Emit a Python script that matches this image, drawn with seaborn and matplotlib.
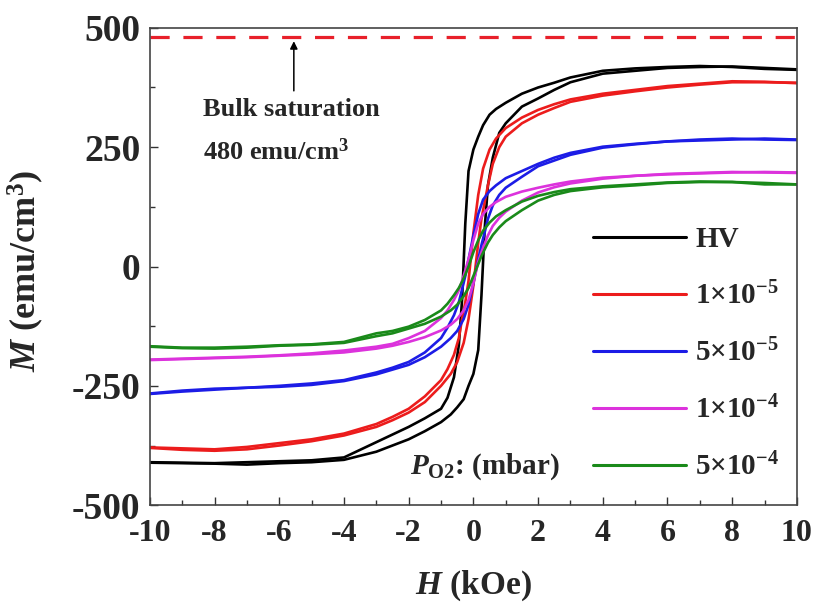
import numpy as np
import pandas as pd
import matplotlib
matplotlib.use("Agg")
import matplotlib.pyplot as plt
from matplotlib.lines import Line2D
from matplotlib.ticker import MultipleLocator
import seaborn as sns

# ---- measured M-H loops (H in kOe, M in emu/cm^3) ----
# field sweep from +10 down to -10 kOe (descending branch)
H_DOWN = [10, 9, 8, 7, 6, 5, 4, 3, 2.5, 2, 1.5, 1, 0.7, 0.5, 0.3, 0.15, 0,
          -0.15, -0.25, -0.35, -0.45, -0.6, -0.8, -1, -1.5, -2, -2.5, -3, -4,
          -5, -6, -7, -8, -9, -10]
# field sweep from -10 up to +10 kOe (ascending branch)
H_UP = [-10, -9, -8, -7, -6, -5, -4, -3, -2.5, -2, -1.5, -1, -0.7, -0.5, -0.3,
        -0.15, 0, 0.15, 0.25, 0.35, 0.45, 0.6, 0.8, 1, 1.5, 2, 2.5, 3, 4, 5,
        6, 7, 8, 9, 10]

M_HV_DOWN = [412, 414, 418, 420, 418, 415, 410, 396, 385, 375, 362, 343, 330,
             318, 296, 272, 245, 200, 90, -70, -165, -232, -275, -298, -318,
             -336, -352, -368, -400, -406, -408, -410, -412, -411, -410]
M_HV_UP = [-411, -412, -413, -415, -412, -410, -405, -388, -375, -362, -345,
           -326, -310, -295, -278, -250, -225, -175, -60, 80, 170, 228, 280,
           300, 335, 352, 370, 386, 404, 410, 416, 418, 419, 416, 413]

M_1E5_DOWN = [384, 387, 388, 383, 378, 370, 362, 350, 340, 328, 312, 290, 268,
              245, 205, 150, 70, -30, -75, -110, -150, -185, -215, -238, -272,
              -298, -315, -330, -350, -362, -370, -378, -383, -381, -379]
M_1E5_UP = [-380, -384, -386, -383, -375, -366, -354, -336, -322, -306, -284,
            -250, -225, -200, -160, -110, -40, 50, 100, 135, 170, 215, 250,
            272, 300, 318, 332, 345, 358, 367, 375, 381, 386, 386, 385]

M_5E5_DOWN = [266, 268, 266, 264, 262, 257, 251, 238, 228, 215, 200, 185, 170,
              158, 140, 110, 65, 15, -20, -48, -75, -102, -128, -150, -180,
              -200, -212, -222, -238, -245, -250, -254, -256, -260, -266]
M_5E5_UP = [-267, -262, -258, -254, -252, -248, -240, -226, -216, -206, -190,
            -168, -150, -135, -110, -80, -35, 15, 45, 72, 100, 128, 150, 165,
            188, 210, 222, 234, 249, 256, 262, 266, 268, 266, 265]

M_1E4_DOWN = [197, 198, 197, 195, 193, 190, 186, 178, 172, 165, 157, 146, 135,
              125, 110, 90, 55, 15, -8, -30, -50, -70, -92, -108, -135, -150,
              -162, -168, -176, -182, -186, -189, -191, -193, -195]
M_1E4_UP = [-196, -194, -192, -190, -187, -184, -180, -172, -166, -158, -148,
            -134, -122, -110, -92, -70, -35, 10, 30, 48, 65, 85, 102, 115, 138,
            155, 166, 174, 184, 190, 194, 196, 198, 197, 196]

M_5E4_DOWN = [172, 172, 177, 178, 176, 172, 168, 162, 156, 148, 136, 118, 105,
              92, 75, 55, 30, 0, -17, -32, -45, -60, -78, -92, -112, -126,
              -135, -140, -158, -163, -165, -168, -170, -170, -167]
M_5E4_UP = [-168, -171, -172, -170, -166, -164, -160, -146, -140, -130, -120,
            -105, -92, -80, -62, -45, -20, 5, 22, 36, 50, 66, 82, 95, 118, 138,
            150, 158, 166, 170, 175, 177, 177, 175, 172]

SAMPLES = ["HV", "1e-5", "5e-5", "1e-4", "5e-4"]
LEGEND_LABELS = ["HV", r"$1{\times}10^{-5}$", r"$5{\times}10^{-5}$",
                 r"$1{\times}10^{-4}$", r"$5{\times}10^{-4}$"]
COLORS = ["#000000", "#ec1c1c", "#1c1ce6", "#dc32dc", "#1a8a1a"]
BULK_MS = 480

branches = {
    "HV": (M_HV_DOWN, M_HV_UP),
    "1e-5": (M_1E5_DOWN, M_1E5_UP),
    "5e-5": (M_5E5_DOWN, M_5E5_UP),
    "1e-4": (M_1E4_DOWN, M_1E4_UP),
    "5e-4": (M_5E4_DOWN, M_5E4_UP),
}

rows = []
for s in SAMPLES:
    down, up = branches[s]
    for i, (h, m) in enumerate(zip(H_DOWN, down)):
        rows.append({"H": h, "M": m, "sample": s, "branch": "down", "order": i})
    for i, (h, m) in enumerate(zip(H_UP, up)):
        rows.append({"H": h, "M": m, "sample": s, "branch": "up", "order": i})
df = pd.DataFrame(rows)
df["unit"] = df["sample"] + "_" + df["branch"]
df = df.sort_values(["unit", "order"])

sns.set_style("ticks")
plt.rcParams["font.family"] = ["Liberation Serif", "DejaVu Serif"]
plt.rcParams["font.weight"] = "bold"
plt.rcParams["axes.unicode_minus"] = False
plt.rcParams["mathtext.fontset"] = "custom"
plt.rcParams["mathtext.rm"] = "Liberation Serif:bold"
plt.rcParams["mathtext.bf"] = "Liberation Serif:bold"
plt.rcParams["mathtext.it"] = "Liberation Serif:bold:italic"

fig = plt.figure(figsize=(8.19, 6.05), dpi=100)
ax = fig.add_axes([0.183, 0.165, 0.790, 0.789])

sns.lineplot(data=df, x="H", y="M", hue="sample", hue_order=SAMPLES,
             palette=COLORS, units="unit", estimator=None, sort=False,
             linewidth=1.9, legend=False, ax=ax)

# bulk saturation magnetisation
ax.axhline(BULK_MS, color="#e8202a", linewidth=2.3, dashes=(6, 4.3))
ax.annotate("", xy=(-5.55, BULK_MS - 8), xytext=(-5.55, 368),
            arrowprops=dict(arrowstyle="-|>", color="black", lw=1.1,
                            mutation_scale=11, shrinkA=0, shrinkB=0))
ax.text(-8.36, 328, "Bulk saturation", fontsize=19, fontweight="bold",
        ha="left", va="center")
ax.text(-8.36, 240, "480 emu/cm$^{3}$", fontsize=19, fontweight="bold",
        ha="left", va="center")
ax.text(0.35, -420, r"$P_{\mathrm{O2}}$: (mbar)", fontsize=21,
        fontweight="bold", ha="center", va="center")

ax.set_xlim(-10, 10)
ax.set_ylim(-500, 500)
ax.xaxis.set_major_locator(MultipleLocator(2))
ax.xaxis.set_minor_locator(MultipleLocator(1))
ax.yaxis.set_major_locator(MultipleLocator(250))
ax.yaxis.set_minor_locator(MultipleLocator(125))
ax.tick_params(which="both", direction="in", top=False, right=False,
               color="#333333", width=1.0)
ax.tick_params(which="major", length=6)
ax.tick_params(which="minor", length=3.5)
ax.tick_params(axis="x", which="major", labelsize=23, pad=10)
ax.tick_params(axis="y", which="major", labelsize=27, pad=7)
for lab in ax.get_xticklabels() + ax.get_yticklabels():
    lab.set_fontweight("bold")
for sp in ax.spines.values():
    sp.set_color("#444444")
    sp.set_linewidth(1.2)

ax.set_xlabel("$H$ (kOe)", fontsize=24, fontweight="bold")
ax.set_ylabel("$M$ (emu/cm$^{3}$)", fontsize=26, fontweight="bold")
ax.xaxis.set_label_coords(0.5, -0.133)
ax.yaxis.set_label_coords(-0.16, 0.49)

handles = [Line2D([], [], color=c, linewidth=2.2) for c in COLORS]
ax.legend(handles, LEGEND_LABELS, loc="center left",
          bbox_to_anchor=(0.685, 0.317), frameon=False, borderaxespad=0,
          borderpad=0, handlelength=3.2, handletextpad=0.3,
          labelspacing=0.98, prop={"size": 21, "weight": "bold"})

fig.savefig("out.png", dpi=100)
